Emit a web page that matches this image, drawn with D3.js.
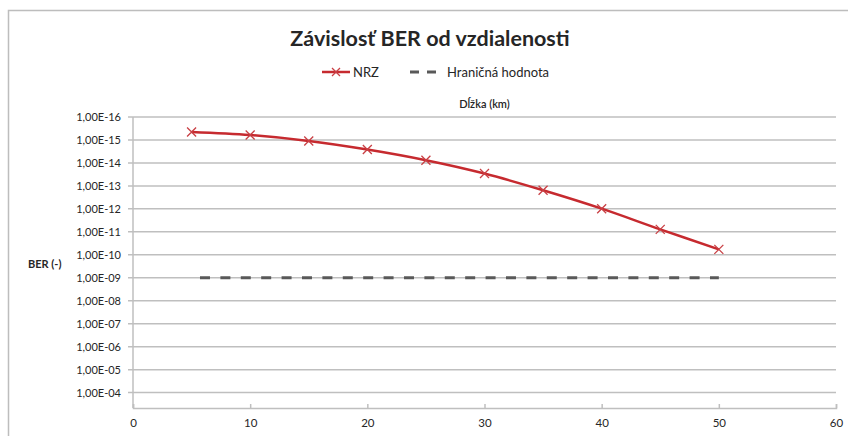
<!DOCTYPE html>
<html>
<head>
<meta charset="utf-8">
<script src="https://cdn.jsdelivr.net/npm/d3@7"></script>
<style>
  body { margin: 0; background: #fff; }
  svg text { font-family: Lato, "Open Sans", sans-serif; fill: #262626; }
</style>
</head>
<body>
<svg id="chart" width="848" height="436"></svg>
<script>
// Data
var distances = [5, 10, 15, 20, 25, 30, 35, 40, 45, 50];
var berNRZ = [4.5e-16, 6.1e-16, 1.1e-15, 2.6e-15, 7.6e-15, 2.9e-14, 1.55e-13, 9.8e-13, 7.8e-12, 5.8e-11];
var limitX = [5, 50];
var limitBER = [1e-9, 1e-9];
var yTicks = [1e-16, 1e-15, 1e-14, 1e-13, 1e-12, 1e-11, 1e-10, 1e-9, 1e-8, 1e-7, 1e-6, 1e-5, 1e-4];
var xTicks = [0, 10, 20, 30, 40, 50, 60];

var red = "#c62a2f";
var gray = "#595959";

var svg = d3.select("#chart");

// chart frame (only top and left edges are visible in the reference)
svg.append("path")
  .attr("d", "M8.5,450V10.5H860")
  .attr("fill", "none")
  .attr("stroke", "#bdbdbd")
  .attr("stroke-width", 1.5);

var x = d3.scaleLinear().domain([0, 60]).range([133, 836]);
var y = d3.scaleLog().domain([1e-16, Math.pow(10, -3.33)]).range([117, 408]);

function fmt(v) {
  var e = Math.round(Math.log10(v));
  var s = Math.abs(e) < 10 ? "0" + Math.abs(e) : "" + Math.abs(e);
  return "1,00E" + (e < 0 ? "-" : "+") + s;
}

// horizontal gridlines
svg.append("g")
  .selectAll("line")
  .data(yTicks)
  .join("line")
  .attr("x1", 128)
  .attr("x2", x(60))
  .attr("y1", function(d) { return y(d); })
  .attr("y2", function(d) { return y(d); })
  .attr("stroke", "#bfbfbf")
  .attr("stroke-width", 1.5);

// y labels
svg.append("g")
  .selectAll("text")
  .data(yTicks)
  .join("text")
  .attr("x", 121)
  .attr("y", function(d) { return y(d) + 4; })
  .attr("text-anchor", "end")
  .style("font-size", "11px")
  .text(fmt);

// axes lines
svg.append("line")
  .attr("x1", x(0)).attr("x2", x(0))
  .attr("y1", y(1e-16)).attr("y2", 408)
  .attr("stroke", "#bfbfbf").attr("stroke-width", 1.5);

var xAxis = d3.axisBottom(x).tickValues(xTicks).tickSize(-4).tickPadding(11).tickFormat(d3.format("d"));
var gx = svg.append("g")
  .attr("transform", "translate(0,408)")
  .call(xAxis);
gx.select(".domain").attr("stroke", "#bfbfbf").attr("stroke-width", 1.5);
gx.selectAll(".tick line").attr("stroke", "#bfbfbf").attr("stroke-width", 1.5);
gx.selectAll(".tick text")
  .style("font-family", "Lato, sans-serif")
  .style("font-size", "11.5px")
  .attr("fill", "#262626");

// limit line
var lineGen = d3.line()
  .x(function(d) { return x(d[0]); })
  .y(function(d) { return y(d[1]); });

svg.append("path")
  .datum(d3.zip(limitX, limitBER))
  .attr("d", lineGen)
  .attr("fill", "none")
  .attr("stroke", gray)
  .attr("stroke-width", 3)
  .attr("stroke-dasharray", "10,10.4")
  .attr("stroke-dashoffset", 12);

// NRZ line
var smooth = d3.line()
  .x(function(d) { return x(d[0]); })
  .y(function(d) { return y(d[1]); })
  .curve(d3.curveCatmullRom);

svg.append("path")
  .datum(d3.zip(distances, berNRZ))
  .attr("d", smooth)
  .attr("fill", "none")
  .attr("stroke", red)
  .attr("stroke-width", 2.5);

function cross(g, cx, cy, r) {
  g.append("path")
    .attr("d", "M" + (cx - r) + "," + (cy - r) + "L" + (cx + r) + "," + (cy + r) +
               "M" + (cx - r) + "," + (cy + r) + "L" + (cx + r) + "," + (cy - r))
    .attr("stroke", "#c94045")
    .attr("stroke-width", 1.3)
    .attr("fill", "none");
}

var marks = svg.append("g");
d3.zip(distances, berNRZ).forEach(function(d) {
  cross(marks, x(d[0]), y(d[1]), 4.5);
});

// title
svg.append("text")
  .attr("x", 430)
  .attr("y", 46)
  .attr("text-anchor", "middle")
  .style("font-size", "21.5px")
  .style("font-weight", "bold")
  .text("Závislosť BER od vzdialenosti");

// legend
var leg = svg.append("g");
leg.append("line")
  .attr("x1", 322).attr("x2", 350).attr("y1", 72).attr("y2", 72)
  .attr("stroke", red).attr("stroke-width", 2.5);
cross(leg, 336, 72, 4);
leg.append("text")
  .attr("x", 353).attr("y", 76.5)
  .style("font-size", "13px")
  .text("NRZ");
leg.append("line")
  .attr("x1", 410).attr("x2", 437).attr("y1", 72).attr("y2", 72)
  .attr("stroke", gray).attr("stroke-width", 3)
  .attr("stroke-dasharray", "9,8");
leg.append("text")
  .attr("x", 447).attr("y", 76.5)
  .style("font-size", "13px")
  .text("Hraničná hodnota");

// axis titles
svg.append("text")
  .attr("x", (x(0) + x(60)) / 2)
  .attr("y", 108)
  .attr("text-anchor", "middle")
  .style("font-size", "11px")
  .style("font-weight", "600")
  .text("Dĺžka (km)");

svg.append("text")
  .attr("x", 28)
  .attr("y", 268)
  .style("font-size", "11px")
  .style("font-weight", "bold")
  .text("BER (-)");
</script>
</body>
</html>
